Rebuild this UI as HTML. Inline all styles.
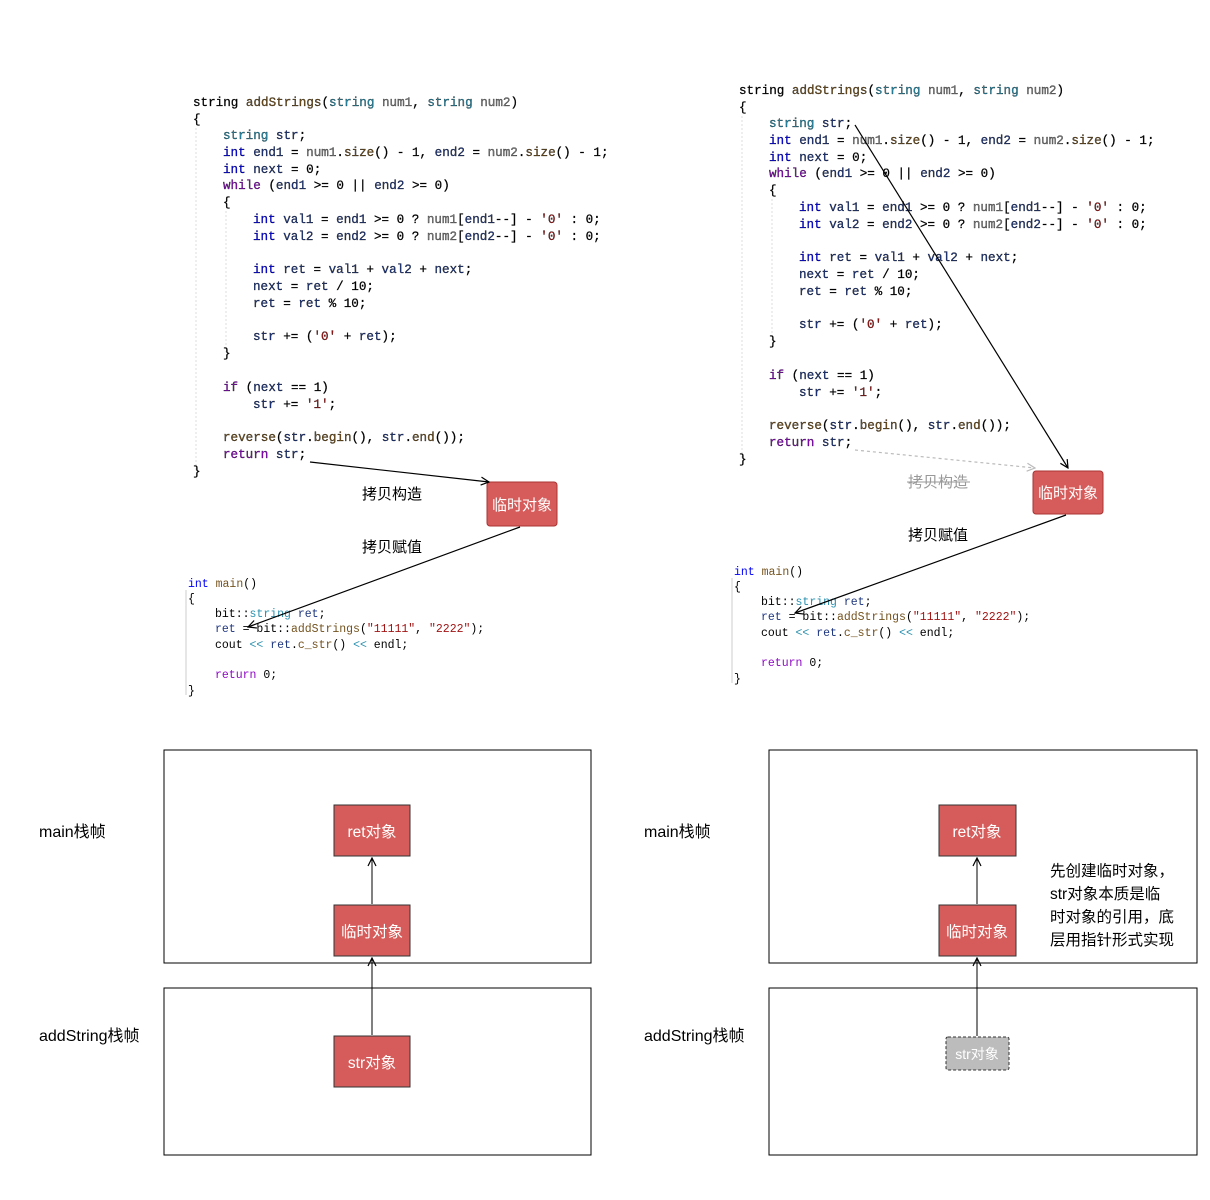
<!DOCTYPE html>
<html><head><meta charset="utf-8"><style>
html,body{margin:0;padding:0;background:#fff;width:1210px;height:1200px;overflow:hidden}
svg{display:block}
.c{font-family:"Liberation Mono",monospace;font-size:12.6px;fill:#000;white-space:pre;stroke:currentColor;stroke-width:0.25}
.m{font-family:"Liberation Mono",monospace;font-size:11.5px;fill:#000;white-space:pre}
.k{fill:#0000ff}.t{fill:#2b91af}.p{fill:#8f08c4}.f{fill:#74531f}.g{fill:#808080}.r{fill:#a31515}.v{fill:#1f377f}
.z{font-family:"Liberation Sans","Noto Sans CJK SC",sans-serif}
</style></head><body>
<svg width="1210" height="1200" xmlns="http://www.w3.org/2000/svg">
<defs>
<marker id="a" markerWidth="10" markerHeight="10" refX="9" refY="5" orient="auto" markerUnits="userSpaceOnUse"><path d="M1,1 L9,5 L1,9" fill="none" stroke="#000" stroke-width="1.2"/></marker>
<marker id="ag" markerWidth="10" markerHeight="10" refX="9" refY="5" orient="auto" markerUnits="userSpaceOnUse"><path d="M1,1 L9,5 L1,9" fill="none" stroke="#bbb" stroke-width="1.2"/></marker>
<g id="code" xml:space="preserve">
<line x1="196" y1="128" x2="196" y2="470" stroke="#ddd" stroke-dasharray="2,2"/>
<line x1="226" y1="211" x2="226" y2="352" stroke="#ddd" stroke-dasharray="2,2"/>
<text class="c" x="193" y="106">string <tspan class="f">addStrings</tspan>(<tspan class="t">string</tspan> <tspan class="g">num1</tspan>, <tspan class="t">string</tspan> <tspan class="g">num2</tspan>)</text>
<text class="c" x="193" y="123">{</text>
<text class="c" x="223" y="139"><tspan class="t">string</tspan> <tspan class="v">str</tspan>;</text>
<text class="c" x="223" y="156"><tspan class="k">int</tspan> <tspan class="v">end1</tspan> = <tspan class="g">num1</tspan>.<tspan class="f">size</tspan>() - 1, <tspan class="v">end2</tspan> = <tspan class="g">num2</tspan>.<tspan class="f">size</tspan>() - 1;</text>
<text class="c" x="223" y="173"><tspan class="k">int</tspan> <tspan class="v">next</tspan> = 0;</text>
<text class="c" x="223" y="189"><tspan class="p">while</tspan> (<tspan class="v">end1</tspan> &gt;= 0 || <tspan class="v">end2</tspan> &gt;= 0)</text>
<text class="c" x="223" y="206">{</text>
<text class="c" x="253" y="223"><tspan class="k">int</tspan> <tspan class="v">val1</tspan> = <tspan class="v">end1</tspan> &gt;= 0 ? <tspan class="g">num1</tspan>[<tspan class="v">end1</tspan>--] - <tspan class="r">'0'</tspan> : 0;</text>
<text class="c" x="253" y="240"><tspan class="k">int</tspan> <tspan class="v">val2</tspan> = <tspan class="v">end2</tspan> &gt;= 0 ? <tspan class="g">num2</tspan>[<tspan class="v">end2</tspan>--] - <tspan class="r">'0'</tspan> : 0;</text>
<text class="c" x="253" y="273"><tspan class="k">int</tspan> <tspan class="v">ret</tspan> = <tspan class="v">val1</tspan> + <tspan class="v">val2</tspan> + <tspan class="v">next</tspan>;</text>
<text class="c" x="253" y="290"><tspan class="v">next</tspan> = <tspan class="v">ret</tspan> / 10;</text>
<text class="c" x="253" y="307"><tspan class="v">ret</tspan> = <tspan class="v">ret</tspan> % 10;</text>
<text class="c" x="253" y="340"><tspan class="v">str</tspan> += (<tspan class="r">'0'</tspan> + <tspan class="v">ret</tspan>);</text>
<text class="c" x="223" y="357">}</text>
<text class="c" x="223" y="391"><tspan class="p">if</tspan> (<tspan class="v">next</tspan> == 1)</text>
<text class="c" x="253" y="408"><tspan class="v">str</tspan> += <tspan class="r">'1'</tspan>;</text>
<text class="c" x="223" y="441"><tspan class="f">reverse</tspan>(<tspan class="v">str</tspan>.<tspan class="f">begin</tspan>(), <tspan class="v">str</tspan>.<tspan class="f">end</tspan>());</text>
<text class="c" x="223" y="458"><tspan class="p">return</tspan> <tspan class="v">str</tspan>;</text>
<text class="c" x="193" y="475">}</text>
</g>
<g id="main" xml:space="preserve">
<line x1="186" y1="590" x2="186" y2="695" stroke="#ccc"/>
<text class="m" x="188" y="587"><tspan class="k">int</tspan> <tspan class="f">main</tspan>()</text>
<text class="m" x="188" y="602">{</text>
<text class="m" x="215" y="617">bit::<tspan class="t">string</tspan> <tspan class="v">ret</tspan>;</text>
<text class="m" x="215" y="632"><tspan class="v">ret</tspan> = bit::<tspan class="f">addStrings</tspan>(<tspan class="r">"11111"</tspan>, <tspan class="r">"2222"</tspan>);</text>
<text class="m" x="215" y="648">cout <tspan class="t">&lt;&lt;</tspan> <tspan class="v">ret</tspan>.<tspan class="f">c_str</tspan>() <tspan class="t">&lt;&lt;</tspan> endl;</text>
<text class="m" x="215" y="678"><tspan class="p">return</tspan> 0;</text>
<text class="m" x="188" y="694">}</text>
</g>
</defs>
<use href="#code"/>
<use href="#code" transform="translate(546,-12)"/>
<use href="#main"/>
<use href="#main" transform="translate(546,-12)"/>

<rect x="487" y="482" width="70" height="44" rx="3" fill="#d55c5a" stroke="#a33" />
<text class="z" x="522" y="510" font-size="15" fill="#fff" text-anchor="middle">临时对象</text>
<line x1="310" y1="462" x2="489" y2="482" stroke="#000" stroke-width="1.2" marker-end="url(#a)"/>
<line x1="520" y1="527" x2="248" y2="627" stroke="#000" stroke-width="1.2" marker-end="url(#a)"/>
<text class="z" x="362" y="499" font-size="15" fill="#000">拷贝构造</text>
<text class="z" x="362" y="552" font-size="15" fill="#000">拷贝赋值</text>

<rect x="1033" y="471" width="70" height="43" rx="3" fill="#d55c5a" stroke="#a33"/>
<text class="z" x="1068" y="498" font-size="15" fill="#fff" text-anchor="middle">临时对象</text>
<line x1="855" y1="125" x2="1068" y2="468" stroke="#000" stroke-width="1.2" marker-end="url(#a)"/>
<line x1="855" y1="450" x2="1035" y2="468" stroke="#bbb" stroke-width="1.2" stroke-dasharray="3,3" marker-end="url(#ag)"/>
<line x1="1066" y1="515" x2="795" y2="613" stroke="#000" stroke-width="1.2" marker-end="url(#a)"/>
<text class="z" x="908" y="487" font-size="15" fill="#999">拷贝构造</text>
<line x1="907" y1="482" x2="970" y2="482" stroke="#999" stroke-width="1"/>
<text class="z" x="908" y="540" font-size="15" fill="#000">拷贝赋值</text>

<rect x="164" y="750" width="427" height="213" fill="none" stroke="#000"/>
<rect x="164" y="988" width="427" height="167" fill="none" stroke="#000"/>
<text class="z" x="39" y="837" font-size="16">main栈帧</text>
<text class="z" x="39" y="1041" font-size="16">addString栈帧</text>
<line x1="372" y1="904" x2="372" y2="858" stroke="#000" marker-end="url(#a)"/>
<line x1="372" y1="1035" x2="372" y2="958" stroke="#000" marker-end="url(#a)"/>
<rect x="334" y="805" width="76" height="51" fill="#d55c5a" stroke="#333"/>
<text class="z" x="372" y="837" font-size="15.5" fill="#fff" text-anchor="middle">ret对象</text>
<rect x="334" y="905" width="76" height="51" fill="#d55c5a" stroke="#333"/>
<text class="z" x="372" y="937" font-size="15.5" fill="#fff" text-anchor="middle">临时对象</text>
<rect x="334" y="1036" width="76" height="51" fill="#d55c5a" stroke="#333"/>
<text class="z" x="372" y="1068" font-size="15.5" fill="#fff" text-anchor="middle">str对象</text>

<rect x="769" y="750" width="428" height="213" fill="none" stroke="#000"/>
<rect x="769" y="988" width="428" height="167" fill="none" stroke="#000"/>
<text class="z" x="644" y="837" font-size="16">main栈帧</text>
<text class="z" x="644" y="1041" font-size="16">addString栈帧</text>
<line x1="977" y1="904" x2="977" y2="858" stroke="#000" marker-end="url(#a)"/>
<line x1="977" y1="1036" x2="977" y2="958" stroke="#000" marker-end="url(#a)"/>
<rect x="939" y="805" width="77" height="51" fill="#d55c5a" stroke="#333"/>
<text class="z" x="977" y="837" font-size="15.5" fill="#fff" text-anchor="middle">ret对象</text>
<rect x="939" y="905" width="77" height="51" fill="#d55c5a" stroke="#333"/>
<text class="z" x="977" y="937" font-size="15.5" fill="#fff" text-anchor="middle">临时对象</text>
<rect x="946" y="1037" width="63" height="33" rx="2" fill="#bcbcbc" stroke="#333" stroke-dasharray="3,2"/>
<text class="z" x="977" y="1059" font-size="14" fill="#fff" text-anchor="middle">str对象</text>
<g class="z" font-size="15.5" fill="#000">
<text x="1050" y="876">先创建临时对象，</text>
<text x="1050" y="899">str对象本质是临</text>
<text x="1050" y="922">时对象的引用，底</text>
<text x="1050" y="945">层用指针形式实现</text>
</g>
</svg>
</body></html>
